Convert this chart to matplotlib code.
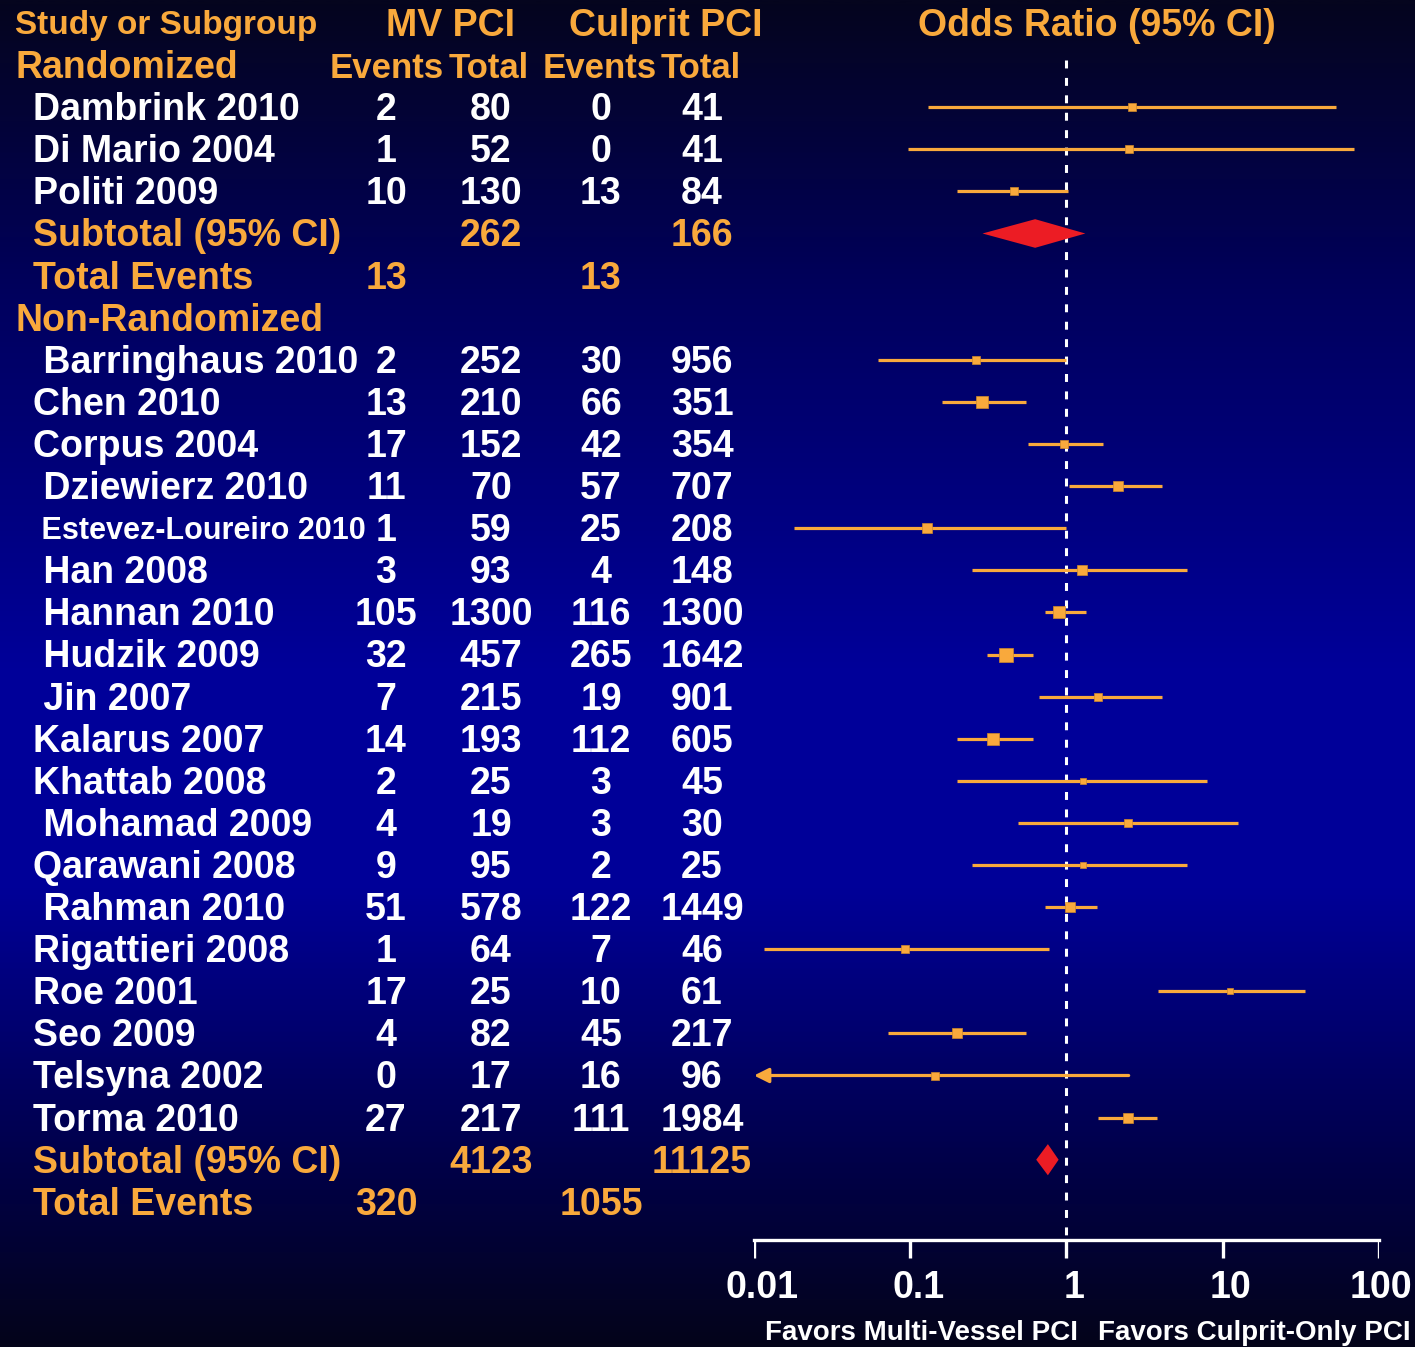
import numpy as np
import matplotlib
matplotlib.use('Agg')
import matplotlib.pyplot as plt
from matplotlib import transforms
from matplotlib.colors import LinearSegmentedColormap

plt.rcParams['font.family'] = ['Liberation Sans', 'DejaVu Sans']
plt.rcParams['font.weight'] = 'bold'

ORANGE = '#F9A93C'
RED = '#EC1C24'
WHITE = 'white'
FS = 27

# randomized trials
rand_names = ['Dambrink 2010', 'Di Mario 2004', 'Politi 2009']
rand_mv_events = [2, 1, 10]
rand_mv_total = [80, 52, 130]
rand_cul_events = [0, 0, 13]
rand_cul_total = [41, 41, 84]
rand_or = [2.61, 2.53, 0.46]
rand_lo = [0.13, 0.097, 0.20]
rand_hi = [53, 69, 1.02]
rand_weight = [4, 4, 4]
rand_sub = (0.63, 0.29, 1.32)
rand_sub_totals = (262, 166)
rand_sub_events = (13, 13)

# non-randomized studies
nr_names = [' Barringhaus 2010', 'Chen 2010', 'Corpus 2004', ' Dziewierz 2010',
            ' Estevez-Loureiro 2010', ' Han 2008', ' Hannan 2010', ' Hudzik 2009',
            ' Jin 2007', 'Kalarus 2007', 'Khattab 2008', ' Mohamad 2009',
            'Qarawani 2008', ' Rahman 2010', 'Rigattieri 2008', 'Roe 2001',
            'Seo 2009', 'Telsyna 2002', 'Torma 2010']
nr_mv_events = [2, 13, 17, 11, 1, 3, 105, 32, 7, 14, 2, 4, 9, 51, 1, 17, 4, 0, 27]
nr_mv_total = [252, 210, 152, 70, 59, 93, 1300, 457, 215, 193, 25, 19, 95, 578, 64, 25, 82, 17, 217]
nr_cul_events = [30, 66, 42, 57, 25, 4, 116, 265, 19, 112, 3, 3, 2, 122, 7, 10, 45, 16, 111]
nr_cul_total = [956, 351, 354, 707, 208, 148, 1300, 1642, 901, 605, 45, 30, 25, 1449, 46, 61, 217, 96, 1984]
nr_or = [0.265, 0.29, 0.96, 2.15, 0.128, 1.25, 0.90, 0.41, 1.6, 0.34, 1.27, 2.46,
         1.27, 1.06, 0.093, 11.1, 0.20, 0.143, 2.46]
nr_lo = [0.062, 0.16, 0.57, 1.03, 0.018, 0.25, 0.73, 0.31, 0.67, 0.20, 0.20, 0.49,
         0.25, 0.73, 0.0116, 3.83, 0.072, 0.008, 1.58]
nr_hi = [1.0, 0.55, 1.70, 4.1, 1.0, 5.9, 1.34, 0.61, 4.1, 0.61, 7.9, 12.5,
         5.9, 1.56, 0.77, 33.6, 0.55, 2.5, 3.78]
nr_weight = [4, 7.5, 4, 5, 5, 5, 8, 12, 4, 7.5, 3, 4, 3, 6, 4, 3, 5, 4, 5]
nr_sub = (0.76, 0.64, 0.89)
nr_sub_totals = (4123, 11125)
nr_sub_events = (320, 1055)

ticks = [0.01, 0.1, 1, 10, 100]
tick_labels = ['0.01', '0.1', '1', '10', '100']

W, H = 1415, 1347
fig = plt.figure(figsize=(W / 100, H / 100), dpi=100)

# slide background: dark at the edges, bright blue in the middle
bg = fig.add_axes([0, 0, 1, 1])
bg.axis('off')
cmap = LinearSegmentedColormap.from_list('slide', [
    (0.0, '#05051e'), (0.22, '#00005e'), (0.5, '#00009a'),
    (0.66, '#000098'), (0.86, '#00004a'), (1.0, '#04041a')])
bg.imshow(np.linspace(0, 1, 512)[:, None], aspect='auto', cmap=cmap,
          extent=(0, 1, 0, 1))

# forest plot axes, one unit on y = one table row
row0, step = 23, 42.1
ax = fig.add_axes([754 / W, 0, (1379 - 754) / W, 1])
ax.set_xscale('log')
ax.set_xlim(0.01, 100)
ax.set_ylim((H - row0) / step, -row0 / step)
ax.axis('off')
ax.patch.set_alpha(0)

tr = transforms.blended_transform_factory(fig.transFigure, ax.transData)
text_dy = 0.07  # glyph boxes sit a little high, nudge text down


def put(xpx, row, s, color=WHITE, ha='center', size=FS):
    ax.text(xpx / W, row + text_dy, s, transform=tr, color=color, ha=ha,
            va='center', fontsize=size, fontweight='bold')


col_ev_mv, col_tot_mv, col_ev_cul, col_tot_cul = 386, 491, 601, 702

# header
put(15, 0, 'Study or Subgroup', ORANGE, ha='left', size=24)
put(450, 0, 'MV PCI', ORANGE)
put(666, 0, 'Culprit PCI', ORANGE)
put(1097, 0, 'Odds Ratio (95% CI)', ORANGE)
put(15, 1, 'Randomized', ORANGE, ha='left')
put(444, 1, 'Events', ORANGE, ha='right', size=25)
put(449, 1, 'Total', ORANGE, ha='left', size=25)
put(657, 1, 'Events', ORANGE, ha='right', size=25)
put(661, 1, 'Total', ORANGE, ha='left', size=25)


def study_block(first_row, names, mv_e, mv_t, cu_e, cu_t, ors, los, his, wts):
    for i, name in enumerate(names):
        r = first_row + i
        size = FS if len(name) < 20 else 22
        put(33, r, name, ha='left', size=size)
        put(col_ev_mv, r, str(mv_e[i]))
        put(col_tot_mv, r, str(mv_t[i]))
        put(col_ev_cul, r, str(cu_e[i]))
        put(col_tot_cul, r, str(cu_t[i]))
        lo = los[i]
        if lo < ticks[0]:
            # interval runs off the left end of the scale
            ax.annotate('', xy=(ticks[0], r), xytext=(his[i], r),
                        arrowprops=dict(arrowstyle='-|>', color=ORANGE, lw=2.3,
                                        mutation_scale=22, shrinkA=0, shrinkB=0))
        else:
            ax.plot([lo, his[i]], [r, r], color=ORANGE, lw=2.3,
                    solid_capstyle='butt', zorder=3)
        ax.plot(ors[i], r, marker='s', ms=2.9 * np.sqrt(wts[i]), color=ORANGE,
                mec='#d08a2a', mew=0.5, zorder=4)


def subtotal(row, est, totals, events, half_h):
    put(33, row, 'Subtotal (95% CI)', ORANGE, ha='left')
    put(col_tot_mv, row, str(totals[0]), ORANGE)
    put(col_tot_cul, row, str(totals[1]), ORANGE)
    put(33, row + 1, 'Total Events', ORANGE, ha='left')
    put(col_ev_mv, row + 1, str(events[0]), ORANGE)
    put(col_ev_cul, row + 1, str(events[1]), ORANGE)
    mid, lo, hi = est
    ax.fill([lo, mid, hi, mid], [row, row - half_h, row, row + half_h],
            color=RED, lw=0, zorder=4)


study_block(2, rand_names, rand_mv_events, rand_mv_total, rand_cul_events,
            rand_cul_total, rand_or, rand_lo, rand_hi, rand_weight)
subtotal(5, rand_sub, rand_sub_totals, rand_sub_events, 0.34)

put(15, 7, 'Non-Randomized', ORANGE, ha='left')
study_block(8, nr_names, nr_mv_events, nr_mv_total, nr_cul_events,
            nr_cul_total, nr_or, nr_lo, nr_hi, nr_weight)
subtotal(27, nr_sub, nr_sub_totals, nr_sub_events, 0.37)

# line of no effect
axis_row = (1240 - row0) / step
ax.plot([1, 1], [0.88, axis_row], color=WHITE, lw=2.2, dashes=(2.6, 3.1), zorder=2)

# x axis drawn by hand at the foot of the table
ax.plot([ticks[0], ticks[-1]], [axis_row, axis_row], color=WHITE, lw=2.4,
        solid_capstyle='projecting', clip_on=False)
ax.vlines(ticks, axis_row, axis_row + 0.43, color=WHITE, lw=2.4)
lab_tr = transforms.offset_copy(ax.transData, fig=fig, x=8, y=0, units='dots')
for t, lab in zip(ticks[:-1], tick_labels[:-1]):
    ax.text(t, axis_row + 1.13, lab, transform=lab_tr, ha='center', va='center',
            color=WHITE, fontsize=FS, fontweight='bold', clip_on=False)
# last label kept inside the right edge
put(1412, axis_row + 1.06, tick_labels[-1], ha='right')

put(1078, axis_row + 2.15, 'Favors Multi-Vessel PCI', ha='right', size=20)
put(1411, axis_row + 2.15, 'Favors Culprit-Only PCI', ha='right', size=20)

fig.savefig('out.png', dpi=100)
